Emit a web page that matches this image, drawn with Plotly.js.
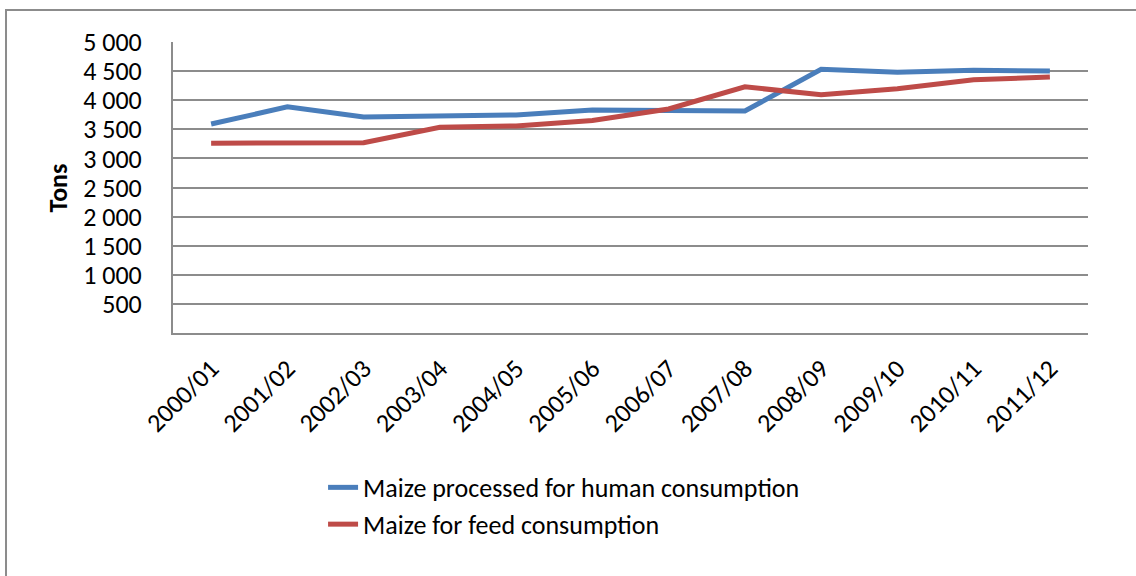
<!DOCTYPE html>
<html>
<head>
<meta charset="utf-8">
<script src="https://cdn.plot.ly/plotly-3.0.1.min.js"></script>
<style>
  html, body { margin: 0; padding: 0; background: #fff; }
  #chart { width: 1136px; height: 576px; }
</style>
</head>
<body>
<div id="chart"></div>
<script>
const seasons = ["2000/01", "2001/02", "2002/03", "2003/04", "2004/05", "2005/06",
  "2006/07", "2007/08", "2008/09", "2009/10", "2010/11", "2011/12"];
const humanConsumption = [3590, 3885, 3713, 3725, 3747, 3830, 3830, 3815, 4530, 4480, 4515, 4500];
const feedConsumption = [3260, 3262, 3270, 3535, 3558, 3650, 3850, 4230, 4092, 4195, 4350, 4397];
const yTickVals = [500, 1000, 1500, 2000, 2500, 3000, 3500, 4000, 4500, 5000];
const yTickText = ["500", "1 000", "1 500", "2 000", "2 500", "3 000", "3 500", "4 000", "4 500", "5 000"];

const fontFamily = "Calibri, Carlito, Lato, 'Open Sans', sans-serif";
const gridColor = "#8c8c8c";

const traces = [
  {
    x: seasons,
    y: humanConsumption,
    name: "Maize processed for human consumption",
    type: "scatter",
    mode: "lines",
    line: { color: "#4a7ebb", width: 5 }
  },
  {
    x: seasons,
    y: feedConsumption,
    name: "Maize for feed consumption",
    type: "scatter",
    mode: "lines",
    line: { color: "#be4b48", width: 5 }
  }
];

const layout = {
  width: 1136,
  height: 576,
  margin: { l: 173, r: 48, t: 42, b: 243 },
  paper_bgcolor: "#ffffff",
  plot_bgcolor: "#ffffff",
  font: { family: fontFamily, size: 26, color: "#000000" },
  showlegend: true,
  legend: {
    orientation: "v",
    x: 0.164,
    xanchor: "left",
    y: -0.45,
    yanchor: "top",
    font: { family: fontFamily, size: 26, color: "#000000" },
    bgcolor: "rgba(0,0,0,0)"
  },
  xaxis: {
    type: "category",
    range: [-0.5, seasons.length - 0.5],
    tickangle: -45,
    showgrid: false,
    showline: true,
    linecolor: gridColor,
    linewidth: 2,
    ticks: "",
    ticklabelstandoff: 8,
    tickfont: { family: fontFamily, size: 26 },
    fixedrange: true
  },
  yaxis: {
    range: [0, 5000],
    tickvals: yTickVals,
    ticktext: yTickText,
    showgrid: true,
    gridcolor: gridColor,
    gridwidth: 2,
    showline: true,
    linecolor: gridColor,
    linewidth: 2,
    zeroline: false,
    ticks: "",
    ticklabelstandoff: 24,
    tickfont: { family: fontFamily, size: 26 },
    fixedrange: true
  },
  annotations: [
    {
      text: "<b>Tons</b>",
      xref: "paper",
      yref: "paper",
      x: -0.1257,
      xanchor: "center",
      y: 0.5,
      yanchor: "middle",
      textangle: -90,
      showarrow: false,
      font: { family: fontFamily, size: 26, color: "#000000" }
    }
  ],
  shapes: [
    {
      type: "rect",
      xref: "paper",
      yref: "paper",
      x0: -0.1825,
      x1: 1.2,
      y0: -1.2,
      y1: 1.11,
      line: { color: gridColor, width: 2 },
      fillcolor: "rgba(0,0,0,0)",
      layer: "below"
    }
  ]
};

Plotly.newPlot("chart", traces, layout, {
  displayModeBar: false,
  staticPlot: true
});
</script>
</body>
</html>
